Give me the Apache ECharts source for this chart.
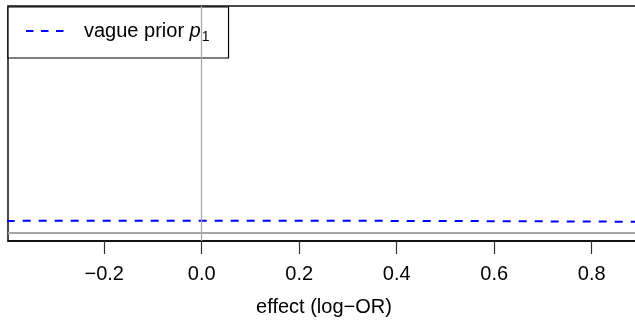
<!DOCTYPE html>
<html>
<head>
<meta charset="utf-8">
<script src="https://cdn.jsdelivr.net/npm/echarts@6/dist/echarts.min.js"></script>
<style>
html,body{margin:0;padding:0;background:#fff;}
#c{width:635px;height:322px;}
</style>
</head>
<body>
<div id="c"></div>
<script>
// effect (log-OR) grid points
const effect = [-0.4, -0.3, -0.2, -0.1, 0.0, 0.1, 0.2, 0.3, 0.4, 0.5, 0.6, 0.7, 0.8, 0.9];
// vague prior p1 density values
const vaguePrior = [0.1955, 0.1972, 0.1985, 0.1992, 0.1995, 0.1992, 0.1985, 0.1972, 0.1955, 0.1933, 0.1907, 0.1876, 0.1841, 0.1803];
// tick labels positions
const xTicks = [-0.2, 0.0, 0.2, 0.4, 0.6, 0.8];
const seriesName = 'vague prior p1';
const xTitle = 'effect (log−OR)';

const Y = 3.73;
const chart = echarts.init(document.getElementById('c'), null, {renderer: 'canvas'});
const FONT = '"Liberation Sans", Arial, Helvetica, sans-serif';

chart.setOption({
  animation: false,
  backgroundColor: '#fff',
  grid: {
    left: 8, top: 6, width: 632, height: 235,
    outerBoundsMode: 'none',
    containLabel: false,
    show: true, borderColor: '#111', borderWidth: 1.5, backgroundColor: 'transparent'
  },
  legend: {
    left: 8, top: 7,
    orient: 'vertical',
    padding: [14, 19, 14, 17],
    itemWidth: 40, itemHeight: 14,
    backgroundColor: '#fff',
    borderColor: '#000', borderWidth: 1.2, borderRadius: 0,
    itemStyle: {opacity: 0},
    lineStyle: {type: [7.5, 7.5], width: 2, color: '#0000ff', cap: 'butt'},
    data: [seriesName],
    formatter: function () { return '{a|vague prior }{i|p}{s|1}'; },
    textStyle: {
      fontFamily: FONT, fontSize: 20, color: '#000',
      rich: {
        a: {fontFamily: FONT, fontSize: 20, lineHeight: 20, color: '#000', verticalAlign: 'top', padding: [0, 0, 0, 13]},
        i: {fontFamily: FONT, fontSize: 20, lineHeight: 20, fontStyle: 'italic', color: '#000', verticalAlign: 'top'},
        s: {fontFamily: FONT, fontSize: 14, lineHeight: 14, color: '#000', verticalAlign: 'top', padding: [9, 0, 0, 1]}
      }
    }
  },
  xAxis: {
    type: 'value',
    min: -0.3973, max: 0.899,
    name: xTitle,
    nameLocation: 'middle',
    nameGap: 56,
    nameTextStyle: {fontFamily: FONT, fontSize: 20, color: '#000'},
    axisLine: {show: true, onZero: false, lineStyle: {color: '#000', width: 1.5}},
    axisTick: {show: true, customValues: xTicks, length: 13, lineStyle: {color: '#333', width: 1.2}},
    axisLabel: {
      customValues: xTicks, margin: 23,
      fontFamily: FONT, fontSize: 20, color: '#000',
      formatter: function (v) { return (v < 0 ? '−' : '') + Math.abs(v).toFixed(1); }
    },
    splitLine: {show: false}
  },
  yAxis: {
    type: 'value',
    min: -0.04 * Y, max: 1.04 * Y,
    show: false,
    splitLine: {show: false}
  },
  series: [{
    name: seriesName,
    type: 'line',
    data: effect.map((x, i) => [x, vaguePrior[i]]),
    showSymbol: false, symbol: 'none',
    smooth: false,
    lineStyle: {color: '#0000ff', width: 2, type: [8, 8], cap: 'butt'},
    itemStyle: {color: '#0000ff'},
    markLine: {
      silent: true, symbol: 'none', animation: false,
      label: {show: false},
      data: [
        {xAxis: 0, lineStyle: {color: '#a6a6a6', width: 1.2, type: 'solid'}},
        {yAxis: 0, lineStyle: {color: '#a6a6a6', width: 2, type: 'solid'}}
      ]
    },
    z: 3
  }]
});
</script>
</body>
</html>
